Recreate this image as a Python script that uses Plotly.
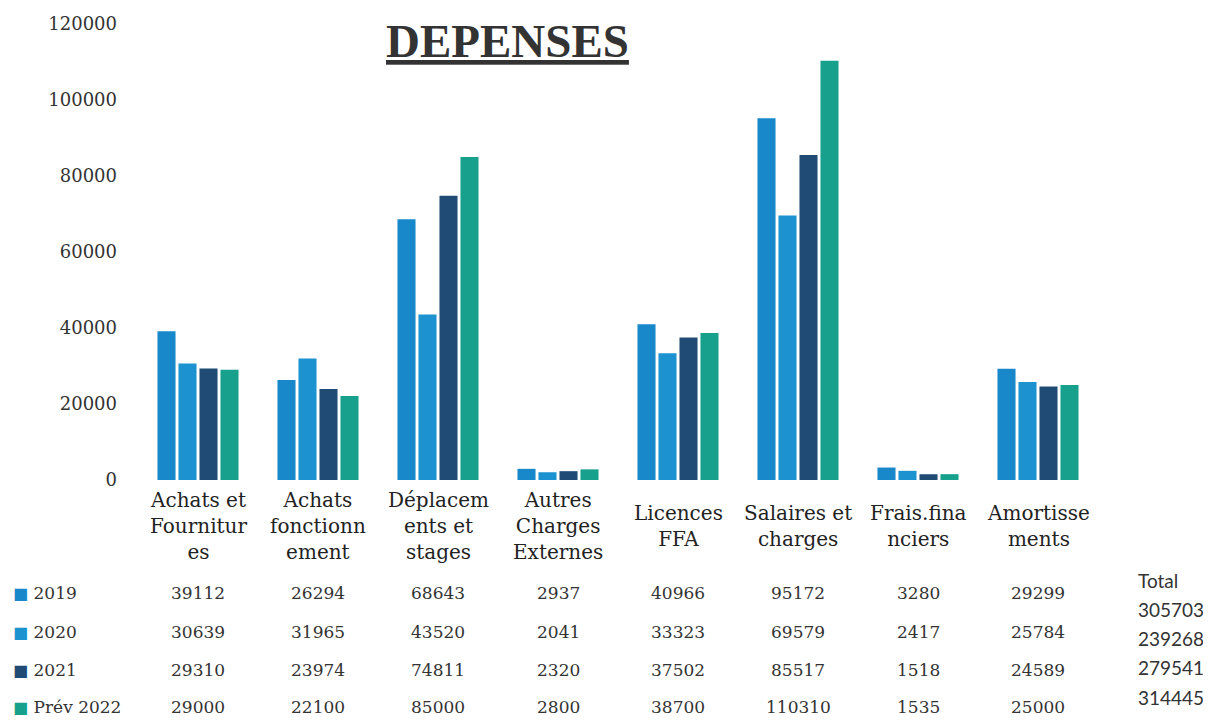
import plotly.graph_objects as go

categories = ["Achats et Fournitures", "Achats fonctionnement", "Déplacements et stages",
              "Autres Charges Externes", "Licences FFA", "Salaires et charges",
              "Frais.financiers", "Amortissements"]
category_labels = ["Achats et<br>Fournitur<br>es", "Achats<br>fonctionn<br>ement",
                   "Déplacem<br>ents et<br>stages", "Autres<br>Charges<br>Externes",
                   "Licences<br>FFA", "Salaires et<br>charges", "Frais.fina<br>nciers",
                   "Amortisse<br>ments"]
series_names = ["2019", "2020", "2021", "Prév 2022"]
v2019 = [39112, 26294, 68643, 2937, 40966, 95172, 3280, 29299]
v2020 = [30639, 31965, 43520, 2041, 33323, 69579, 2417, 25784]
v2021 = [29310, 23974, 74811, 2320, 37502, 85517, 1518, 24589]
v2022 = [29000, 22100, 85000, 2800, 38700, 110310, 1535, 25000]
totals = [305703, 239268, 279541, 314445]
y_ticks = [0, 20000, 40000, 60000, 80000, 100000, 120000]

colors = ["#1888CA", "#1C93D0", "#1F4B75", "#17A08C"]
series_values = [v2019, v2020, v2021, v2022]

SERIF = "DejaVu Serif, serif"
TITLE_FONT = "Liberation Serif, serif"
SANS = "Lato, Noto Sans, sans-serif"
TXT = "#333333"

fig = go.Figure()
for name, vals, col in zip(series_names, series_values, colors):
    fig.add_trace(go.Bar(x=categories, y=vals, name=name, marker_color=col,
                         marker_line_width=0, showlegend=False))

ann = []
# title
ann.append(dict(text="<b><u>DEPENSES</u></b>", x=0.385, y=0.962, xref="paper", yref="paper",
                showarrow=False, font=dict(family=TITLE_FONT, size=47, color=TXT),
                xanchor="center", yanchor="middle"))
# category labels
for cat, lab in zip(categories, category_labels):
    ann.append(dict(text=lab, x=cat, y=-0.101, xref="x", yref="paper", showarrow=False,
                    font=dict(family=SERIF, size=20, color="#222222"),
                    xanchor="center", yanchor="middle", align="center"))
# data table rows
row_y = [-0.2478, -0.3333, -0.4167, -0.4978]
for name, vals, col, ry in zip(series_names, series_values, colors, row_y):
    ann.append(dict(text=f"<span style='color:{col};font-size:16px'>■</span> {name}",
                    x=-0.1325, y=ry,
                    xref="paper", yref="paper", showarrow=False,
                    font=dict(family=SERIF, size=17, color=TXT),
                    xanchor="left", yanchor="middle"))
    for cat, v in zip(categories, vals):
        ann.append(dict(text=str(v), x=cat, y=ry, xref="x", yref="paper", showarrow=False,
                        font=dict(family=SERIF, size=17, color=TXT),
                        xanchor="center", yanchor="middle"))
# totals
tot_y = [-0.2193, -0.2829, -0.3465, -0.4101, -0.4759]
ann.append(dict(text="Total", x=1.0396, y=tot_y[0], xref="paper", yref="paper",
                showarrow=False, font=dict(family=SANS, size=19, color=TXT),
                xanchor="left", yanchor="middle"))
for t, ty in zip(totals, tot_y[1:]):
    ann.append(dict(text=str(t), x=1.0396, y=ty, xref="paper", yref="paper",
                    showarrow=False, font=dict(family=SANS, size=19, color=TXT),
                    xanchor="left", yanchor="middle"))

fig.update_layout(
    width=1203, height=712,
    margin=dict(l=130, r=113, t=16, b=240, autoexpand=False),
    plot_bgcolor="white", paper_bgcolor="white",
    barmode="group", bargap=0.3, bargroupgap=0.14,
    annotations=ann,
    xaxis=dict(showticklabels=False, showgrid=False, zeroline=False, showline=False,
               ticks="", automargin=False),
    yaxis=dict(range=[0, 120000], tickvals=y_ticks, ticktext=[str(t) for t in y_ticks],
               showgrid=False, zeroline=False, showline=False, ticks="",
               ticklabelstandoff=20, automargin=False,
               tickfont=dict(family=SERIF, size=18, color=TXT)),
)

fig.write_html("out.html")
